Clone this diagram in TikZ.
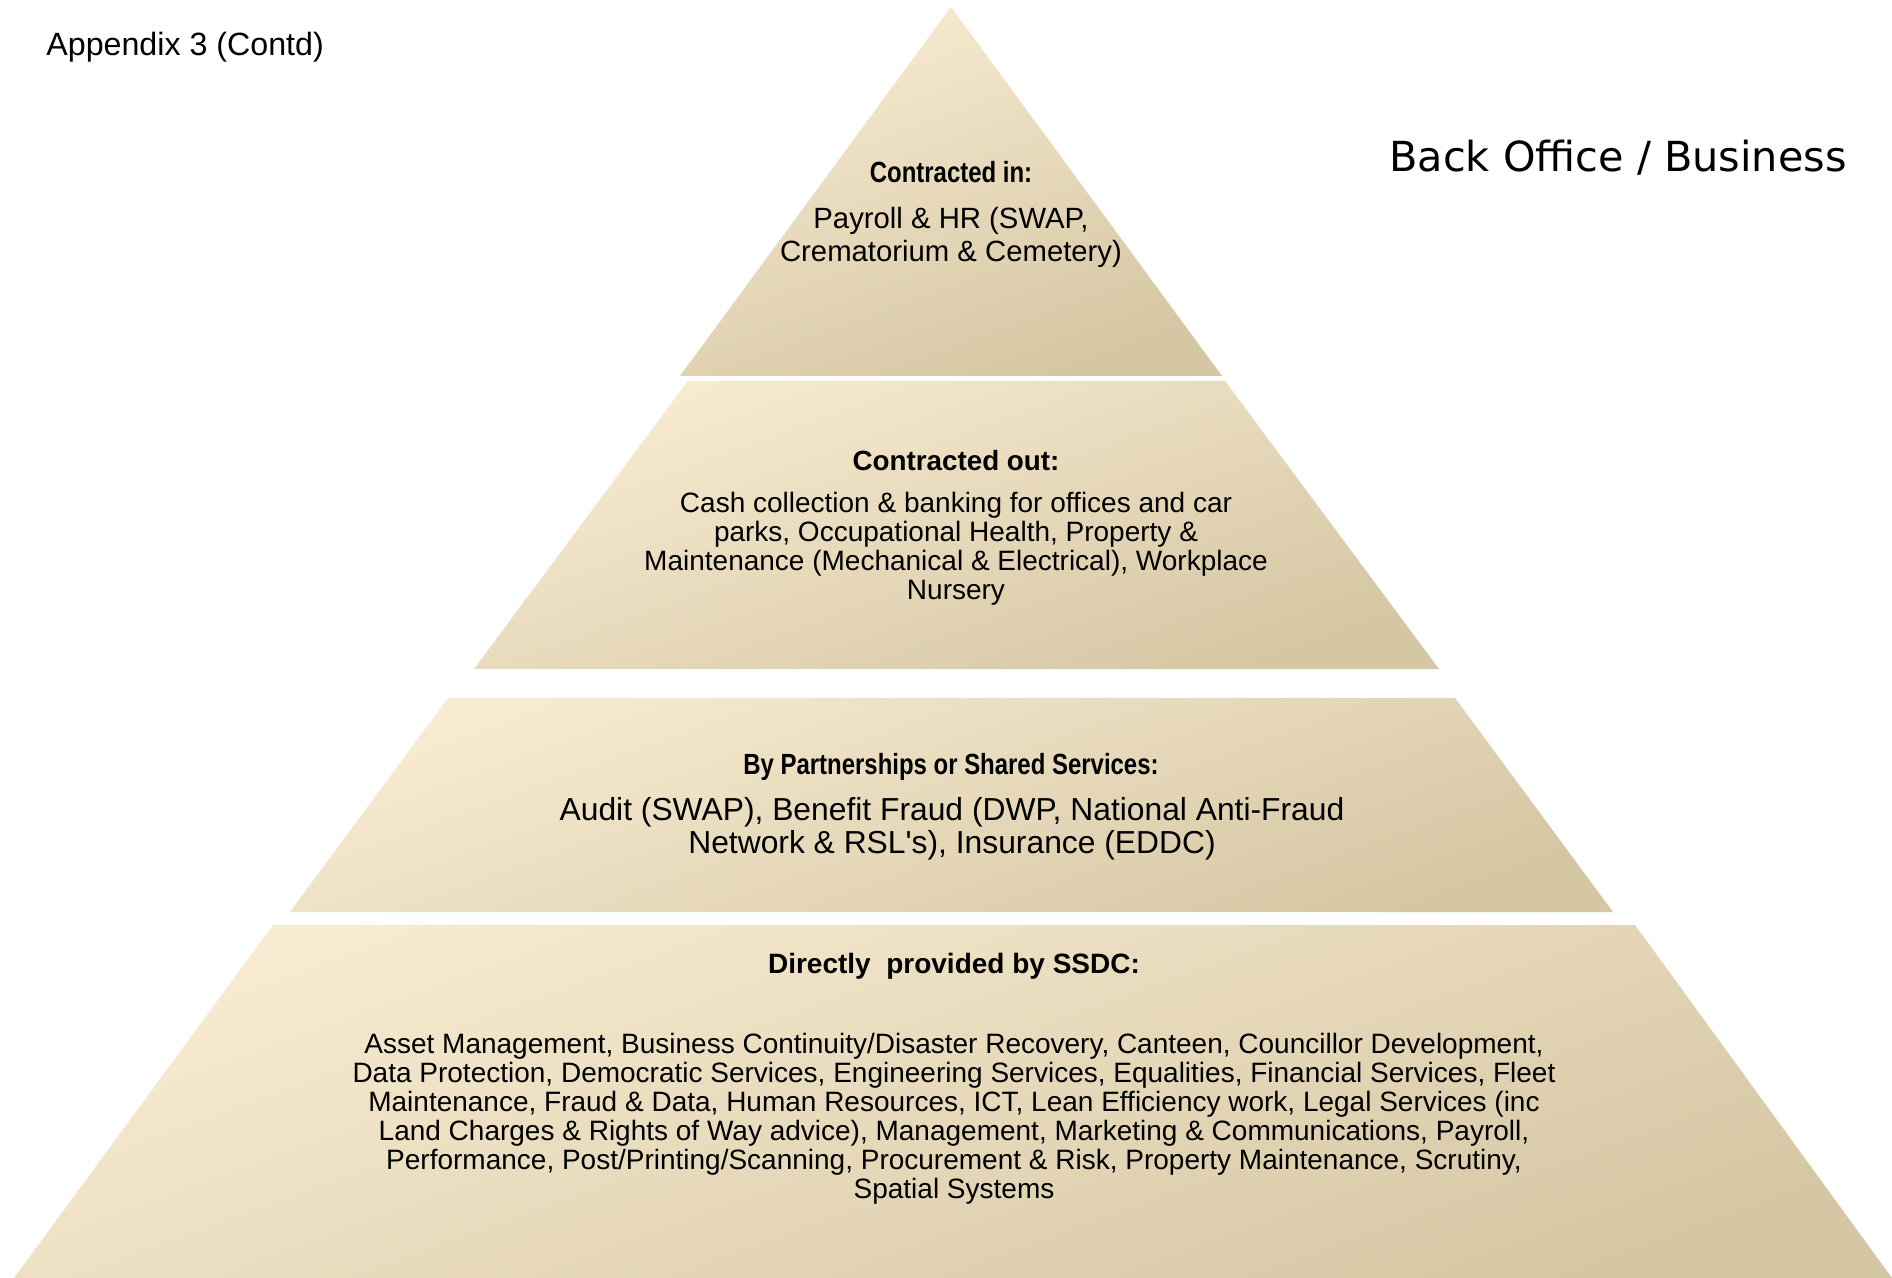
\documentclass[tikz,border=0pt]{standalone}
\usepackage{fontspec}
\setmainfont{Liberation Sans}
\newfontfamily\narrowfont[FakeStretch=0.82]{Liberation Sans}
\newfontfamily\straightfont[Ligatures=ResetAll]{Liberation Sans}
\newfontfamily\titlefont{DejaVu Sans}
\definecolor{tierA}{HTML}{F8EBD1}
\definecolor{tierB}{HTML}{EFE9D6}
\definecolor{tierC}{HTML}{D5C7A3}
\begin{document}
\begin{tikzpicture}[x=0.5pt,y=-0.5pt,
  tier/.style={top color=tierA, middle color=tierB, bottom color=tierC, shading angle=20, draw=none},
  txt/.style={inner sep=0pt, align=center, text=black},
  headn/.style={txt, font=\narrowfont\bfseries\fontsize{14.6pt}{16pt}\selectfont},
  headb/.style={txt, font=\bfseries\fontsize{13.9pt}{15pt}\selectfont},
  bodys/.style={txt, font=\fontsize{14pt}{14.5pt}\selectfont}]
\useasboundingbox (0,0) rectangle (1892,1278);
\fill[white] (0,0) rectangle (1892,1278);
% tiers
\shade[tier] (951,7) -- (1222,376) -- (680,376) -- cycle;
\shade[tier] (688,381) -- (1225,381) -- (1439,669) -- (474,669) -- cycle;
\shade[tier] (448,698) -- (1455,698) -- (1613,912) -- (290,912) -- cycle;
\shade[tier] (273,925) -- (1635,925) -- (1892,1278) -- (14,1278) -- cycle;
% titles
\node[txt, anchor=west, font=\fontsize{16.1pt}{18pt}\selectfont] (appx) at (46,47) {Appendix 3 (Contd)};
\node[txt, anchor=base west, font=\titlefont\fontsize{20.7pt}{24pt}\selectfont] (bo) at (1389,172) {Back Office / Business};
% tier 1
\node[headn] (h1) at (951,172) {Contracted in:};
\node[txt, font=\fontsize{14.65pt}{16.5pt}\selectfont] (b1) at (951,237) {Payroll \& HR (SWAP,\\Crematorium \& Cemetery)};
% tier 2
\node[headb] (h2) at (956,461) {Contracted out:};
\node[bodys] (b2) at (956,549) {Cash collection \& banking for offices and car\\parks, Occupational Health, Property \&\\Maintenance (Mechanical \& Electrical), Workplace\\Nursery};
% tier 3
\node[headn] (h3) at (951,767) {By Partnerships or Shared Services:};
\node[txt, font=\fontsize{15.9pt}{16.3pt}\selectfont] (b3) at (952,829) {Audit (SWAP), Benefit Fraud (DWP, National Anti-Fraud\\Network \& RSL{\straightfont'}s), Insurance (EDDC)};
% tier 4
\node[headb, font=\bfseries\fontsize{14pt}{15pt}\selectfont] (h4) at (954,966) {Directly\ \ provided by SSDC:};
\node[bodys] (b4) at (954,1119) {Asset Management, Business Continuity/Disaster Recovery, Canteen, Councillor Development,\\Data Protection, Democratic Services, Engineering Services, Equalities, Financial Services, Fleet\\Maintenance, Fraud \& Data, Human Resources, ICT, Lean Efficiency work, Legal Services (inc\\Land Charges \& Rights of Way advice), Management, Marketing \& Communications, Payroll,\\Performance, Post/Printing/Scanning, Procurement \& Risk, Property Maintenance, Scrutiny,\\Spatial Systems};
\end{tikzpicture}
\end{document}
